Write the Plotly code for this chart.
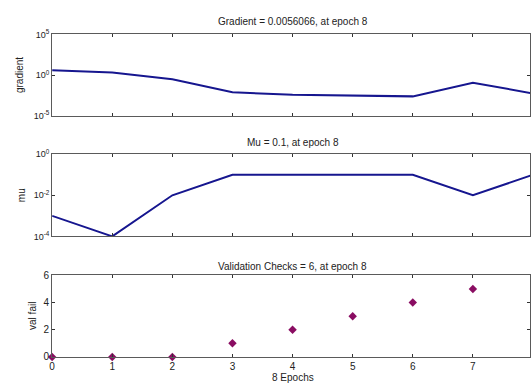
import plotly.graph_objects as go

epochs = [0, 1, 2, 3, 4, 5, 6, 7, 8]
gradient = [3.9, 2.1, 0.31, 0.008, 0.0039, 0.0032, 0.0025, 0.12, 0.0056066]
mu = [0.001, 0.0001, 0.01, 0.1, 0.1, 0.1, 0.1, 0.01, 0.1]
val_fail = [0, 0, 0, 1, 2, 3, 4, 5, 6]

grad_tickvals = [1e-5, 1, 1e5]
grad_ticktext = ["10<sup>-5</sup>", "10<sup>0</sup>", "10<sup>5</sup>"]
mu_tickvals = [1e-4, 1e-2, 1]
mu_ticktext = ["10<sup>-4</sup>", "10<sup>-2</sup>", "10<sup>0</sup>"]
vf_tickvals = [0, 2, 4, 6]
x_tickvals = [0, 1, 2, 3, 4, 5, 6, 7, 8]

titles = ["Gradient = 0.0056066, at epoch 8", "Mu = 0.1, at epoch 8",
          "Validation Checks = 6, at epoch 8"]
ylabels = ["gradient", "mu", "val fail"]
xlabel = "8 Epochs"

W, H = 531, 389
LINE = "#16168f"
MARK = "#8a0d62"
AX = "#5a5a5a"
FONT = "Liberation Sans, Arial, sans-serif"

fig = go.Figure()
fig.add_trace(go.Scatter(x=epochs, y=gradient, mode="lines",
                         line=dict(color=LINE, width=2), xaxis="x", yaxis="y"))
fig.add_trace(go.Scatter(x=epochs, y=mu, mode="lines",
                         line=dict(color=LINE, width=2), xaxis="x2", yaxis="y2"))
fig.add_trace(go.Scatter(x=epochs, y=val_fail, mode="markers",
                         marker=dict(symbol="diamond", color=MARK, size=6.5),
                         cliponaxis=False, xaxis="x3", yaxis="y3"))

x0 = 49.5 / W
doms = [(28.3, 112.7), (152.3, 237.3), (277.7, 362.0)]
ydoms = [[1 - b / H, 1 - t / H] for t, b in doms]

common_x = dict(range=[0, 7.95], domain=[x0, 1], tickvals=x_tickvals,
                ticks="inside", ticklen=3, tickcolor="#333", showline=True,
                linecolor=AX, linewidth=1, mirror="ticks", showgrid=False,
                zeroline=False, tickfont=dict(size=10, color="#222", family=FONT))
common_y = dict(ticks="inside", ticklen=3, tickcolor="#333", showline=True,
                linecolor=AX, linewidth=1, mirror="ticks", showgrid=False,
                zeroline=False, tickfont=dict(size=9, color="#222", family=FONT))

fig.update_layout(
    width=W, height=H,
    margin=dict(l=0, r=0, t=0, b=0),
    paper_bgcolor="white", plot_bgcolor="white",
    showlegend=False,
    font=dict(family=FONT, size=10, color="#222"),
    xaxis=dict(common_x, anchor="y", showticklabels=False),
    xaxis2=dict(common_x, anchor="y2", showticklabels=False),
    xaxis3=dict(common_x, anchor="y3", showticklabels=True, ticklabelstandoff=0),
    yaxis=dict(common_y, type="log", range=[-5, 5], domain=ydoms[0], anchor="x",
               tickvals=grad_tickvals, ticktext=grad_ticktext),
    yaxis2=dict(common_y, type="log", range=[-4, 0], domain=ydoms[1], anchor="x2",
                tickvals=mu_tickvals, ticktext=mu_ticktext),
    yaxis3=dict(common_y, range=[0, 6], domain=ydoms[2], anchor="x3",
                tickvals=vf_tickvals, tickfont=dict(size=10, color="#222", family=FONT)),
)

xc = (49.5 + 534) / 2 / W
title_y = [15, 140, 268]
for t, yy in zip(titles, title_y):
    fig.add_annotation(text=t, x=xc, y=1 - yy / H, xref="paper", yref="paper",
                       showarrow=False, font=dict(size=10, color="#222"),
                       xanchor="center", yanchor="middle")
ylab_x = [16, 18, 29]
for lab, (t, b), xx in zip(ylabels, doms, ylab_x):
    fig.add_annotation(text=lab, x=xx / W, y=1 - (t + b) / 2 / H, xref="paper",
                       yref="paper", showarrow=False, textangle=-90,
                       font=dict(size=10, color="#222"),
                       xanchor="center", yanchor="middle")
fig.add_annotation(text=xlabel, x=xc, y=0, xref="paper", yref="paper",
                   showarrow=False, font=dict(size=10, color="#222"), borderpad=0,
                   xanchor="center", yanchor="bottom", yshift=-1)

fig.write_html("out.html")
